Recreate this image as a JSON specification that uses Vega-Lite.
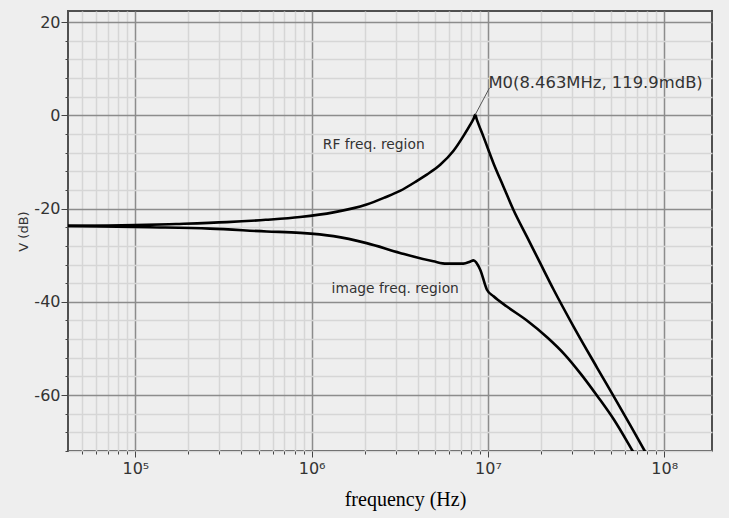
{
  "$schema": "https://vega.github.io/schema/vega-lite/v6.json",
  "width": 644,
  "height": 440,
  "autosize": {"type": "none"},
  "padding": {"left": 68, "top": 11, "right": 17, "bottom": 67},
  "background": "#eeeeee",
  "config": {
    "view": {"stroke": "#505050", "strokeWidth": 2, "fill": "#eeeeee"}
  },
  "datasets": {
    "curves": [
      {"series": "RF", "freq": 41500, "db": -23.7},
      {"series": "RF", "freq": 70000, "db": -23.65},
      {"series": "RF", "freq": 100000, "db": -23.55},
      {"series": "RF", "freq": 170000, "db": -23.3},
      {"series": "RF", "freq": 330000, "db": -22.9},
      {"series": "RF", "freq": 550000, "db": -22.4},
      {"series": "RF", "freq": 860000, "db": -21.8},
      {"series": "RF", "freq": 1330000, "db": -20.8},
      {"series": "RF", "freq": 2050000, "db": -19.1},
      {"series": "RF", "freq": 2600000, "db": -17.6},
      {"series": "RF", "freq": 3170000, "db": -16.2},
      {"series": "RF", "freq": 3940000, "db": -14.1},
      {"series": "RF", "freq": 4500000, "db": -12.7},
      {"series": "RF", "freq": 5360000, "db": -10.6},
      {"series": "RF", "freq": 6380000, "db": -7.6},
      {"series": "RF", "freq": 7270000, "db": -4.4},
      {"series": "RF", "freq": 7940000, "db": -2.0},
      {"series": "RF", "freq": 8300000, "db": -0.65},
      {"series": "RF", "freq": 8463000, "db": 0.12},
      {"series": "RF", "freq": 8650000, "db": -0.9},
      {"series": "RF", "freq": 9440000, "db": -4.6},
      {"series": "RF", "freq": 10760000, "db": -10.3},
      {"series": "RF", "freq": 12250000, "db": -15.3},
      {"series": "RF", "freq": 13960000, "db": -20.3},
      {"series": "RF", "freq": 16630000, "db": -26.0},
      {"series": "RF", "freq": 19800000, "db": -31.7},
      {"series": "RF", "freq": 23600000, "db": -37.4},
      {"series": "RF", "freq": 30600000, "db": -45.3},
      {"series": "RF", "freq": 41700000, "db": -54.2},
      {"series": "RF", "freq": 51900000, "db": -60.4},
      {"series": "RF", "freq": 64500000, "db": -66.6},
      {"series": "RF", "freq": 77500000, "db": -72.0},
      {"series": "RF", "freq": 90000000, "db": -76.3},
      {"series": "image", "freq": 41500, "db": -23.7},
      {"series": "image", "freq": 121000, "db": -24.0},
      {"series": "image", "freq": 265000, "db": -24.3},
      {"series": "image", "freq": 556000, "db": -24.9},
      {"series": "image", "freq": 860000, "db": -25.2},
      {"series": "image", "freq": 1330000, "db": -25.9},
      {"series": "image", "freq": 2050000, "db": -27.4},
      {"series": "image", "freq": 3170000, "db": -29.5},
      {"series": "image", "freq": 4900000, "db": -31.3},
      {"series": "image", "freq": 5820000, "db": -31.8},
      {"series": "image", "freq": 7250000, "db": -31.8},
      {"series": "image", "freq": 7900000, "db": -31.4},
      {"series": "image", "freq": 8280000, "db": -31.1},
      {"series": "image", "freq": 9040000, "db": -33.1},
      {"series": "image", "freq": 9870000, "db": -37.4},
      {"series": "image", "freq": 10760000, "db": -38.8},
      {"series": "image", "freq": 12800000, "db": -41.0},
      {"series": "image", "freq": 16630000, "db": -44.0},
      {"series": "image", "freq": 21800000, "db": -47.7},
      {"series": "image", "freq": 27100000, "db": -51.2},
      {"series": "image", "freq": 33700000, "db": -55.5},
      {"series": "image", "freq": 41900000, "db": -60.3},
      {"series": "image", "freq": 52100000, "db": -65.4},
      {"series": "image", "freq": 66200000, "db": -72.0},
      {"series": "image", "freq": 75000000, "db": -75.5}
    ],
    "regions": [
      {"freq": 2250000, "db": -6.4, "label": "RF freq. region"},
      {"freq": 2980000, "db": -37.2, "label": "image freq. region"}
    ],
    "marker": [
      {"freq": 8463000, "db": 0.12, "freq2": 10200000, "db2": 5.9, "label": "M0(8.463MHz, 119.9mdB)"}
    ]
  },
  "layer": [
    {
      "data": {"name": "curves"},
      "mark": {"type": "line", "clip": true, "color": "black", "strokeWidth": 2.6, "interpolate": "monotone"},
      "encoding": {
        "x": {
          "field": "freq",
          "type": "quantitative",
          "scale": {"type": "log", "domain": [41500, 186600000], "nice": false},
          "axis": {
            "title": "frequency (Hz)",
            "titleFont": "Liberation Serif",
            "titleFontSize": 20,
            "titleFontWeight": "normal",
            "titleColor": "black",
            "titlePadding": 13,
            "titleX": 337,
            "tickCount": 1000,
            "values": [50000, 60000, 70000, 80000, 90000, 100000, 200000, 300000, 400000, 500000, 600000, 700000, 800000, 900000, 1000000, 2000000, 3000000, 4000000, 5000000, 6000000, 7000000, 8000000, 9000000, 10000000, 20000000, 30000000, 40000000, 50000000, 60000000, 70000000, 80000000, 90000000, 100000000],
            "labelExpr": "datum.value == 100000 ? '10⁵' : datum.value == 1000000 ? '10⁶' : datum.value == 10000000 ? '10⁷' : datum.value == 100000000 ? '10⁸' : ''",
            "labelFont": "DejaVu Sans",
            "labelFontSize": 16,
            "labelColor": "#333333",
            "labelFlush": false,
            "labelOverlap": false,
            "labelPadding": 3,
            "domain": false,
            "grid": true,
            "gridColor": {"condition": {"test": "datum.value == 100000 || datum.value == 1000000 || datum.value == 10000000 || datum.value == 100000000", "value": "#8c8c8c"}, "value": "#d6d6d6"},
            "gridWidth": 1.5,
            "tickColor": "#444444",
            "tickSize": {"condition": {"test": "datum.value == 100000 || datum.value == 1000000 || datum.value == 10000000 || datum.value == 100000000", "value": 6}, "value": 3}
          }
        },
        "y": {
          "field": "db",
          "type": "quantitative",
          "scale": {"domain": [-72, 22.4], "nice": false, "zero": false},
          "axis": {
            "title": "V (dB)",
            "titleFont": "DejaVu Sans",
            "titleFontSize": 13,
            "titleFontWeight": "normal",
            "titleColor": "#333333",
            "titlePadding": 3,
            "tickCount": 1000,
            "values": [-72, -68, -64, -60, -56, -52, -48, -44, -40, -36, -32, -28, -24, -20, -16, -12, -8, -4, 0, 4, 8, 12, 16, 20],
            "labelExpr": "datum.value % 20 == 0 ? '' + datum.value : ''",
            "labelFont": "DejaVu Sans",
            "labelFontSize": 16,
            "labelColor": "#333333",
            "labelFlush": false,
            "labelOverlap": false,
            "labelPadding": 1,
            "domain": false,
            "grid": true,
            "gridColor": {"condition": {"test": "datum.value % 20 == 0", "value": "#8c8c8c"}, "value": "#d6d6d6"},
            "gridWidth": 1.5,
            "tickColor": "#444444",
            "tickSize": {"condition": {"test": "datum.value % 20 == 0", "value": 7}, "value": 3}
          }
        },
        "detail": {"field": "series"}
      }
    },
    {
      "data": {"name": "marker"},
      "mark": {"type": "rule", "color": "#555555", "strokeWidth": 1},
      "encoding": {
        "x": {"field": "freq", "type": "quantitative"},
        "x2": {"field": "freq2"},
        "y": {"field": "db", "type": "quantitative"},
        "y2": {"field": "db2"}
      }
    },
    {
      "data": {"name": "marker"},
      "mark": {"type": "text", "font": "DejaVu Sans", "fontSize": 16.4, "color": "#333333", "align": "left", "baseline": "bottom", "dx": -1, "dy": 3},
      "encoding": {
        "x": {"field": "freq2", "type": "quantitative"},
        "y": {"field": "db2", "type": "quantitative"},
        "text": {"field": "label"}
      }
    },
    {
      "data": {"name": "regions"},
      "mark": {"type": "text", "font": "DejaVu Sans", "fontSize": 13.8, "color": "#333333", "align": "center", "baseline": "middle"},
      "encoding": {
        "x": {"field": "freq", "type": "quantitative"},
        "y": {"field": "db", "type": "quantitative"},
        "text": {"field": "label"}
      }
    }
  ]
}
